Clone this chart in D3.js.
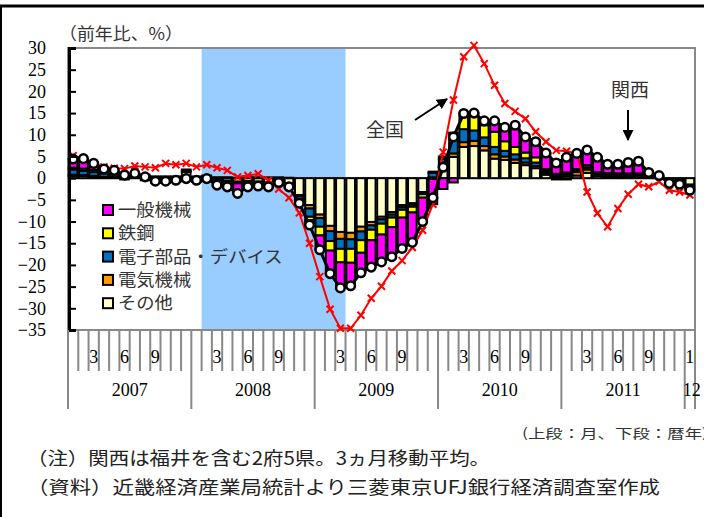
<!DOCTYPE html>
<html>
<head>
<meta charset="utf-8">
<script src="https://cdn.jsdelivr.net/npm/d3@7"></script>
<style>
  body { margin: 0; background: #fff; }
  svg { display: block; }
</style>
</head>
<body>
<div id="chart"></div>
<script>
// months on the x axis (Jan 2007 - Jan 2012)
var months = [
  "2007-01","2007-02","2007-03","2007-04","2007-05","2007-06","2007-07","2007-08","2007-09","2007-10","2007-11","2007-12",
  "2008-01","2008-02","2008-03","2008-04","2008-05","2008-06","2008-07","2008-08","2008-09","2008-10","2008-11","2008-12",
  "2009-01","2009-02","2009-03","2009-04","2009-05","2009-06","2009-07","2009-08","2009-09","2009-10","2009-11","2009-12",
  "2010-01","2010-02","2010-03","2010-04","2010-05","2010-06","2010-07","2010-08","2010-09","2010-10","2010-11","2010-12",
  "2011-01","2011-02","2011-03","2011-04","2011-05","2011-06","2011-07","2011-08","2011-09","2011-10","2011-11","2011-12",
  "2012-01"
];

// contributions (pt)
var sonota = [0.5,0.5,0.3,0.2,0.3,-0.3,0.1,-0.5,-1.0,-1.0,-0.8,1.4,
  -0.3,0.3,-0.4,-0.6,-0.8,-0.7,-0.8,-1.0,-0.5,-1.2,-3.9,-6.2,
  -8.4,-11.0,-12.4,-12.6,-11.2,-10.1,-8.9,-7.8,-6.2,-5.8,-3.2,0.2,
  2.5,4.9,7.2,7.4,6.4,4.5,4.2,3.5,3.0,2.3,0.8,-0.3,
  -0.3,0.6,1.2,0.5,0.3,0.3,0.3,0.3,0.2,0.1,-0.5,-0.5,-1.5];
var denki = [0.3,0.2,0.2,0.1,0.1,0.1,0.1,0.1,0.1,0.1,0.1,0.2,
  0.1,0.1,-0.1,-0.1,-0.2,-0.1,-0.1,-0.1,-0.1,-0.1,-0.3,-0.8,
  -0.8,-1.2,-1.6,-1.5,-1.1,-0.8,-0.6,-0.6,-0.5,-0.4,-0.2,-0.2,
  0.5,0.8,1.1,1.2,1.0,1.0,0.8,0.8,0.6,0.5,0.4,0.3,
  0.5,0.8,0.8,0.3,0.2,0.2,0.2,0.2,0.1,0.0,0.0,0.0,-0.4];
var denshi = [1.2,1.0,0.9,0.8,0.6,0.4,0.4,0.3,0.2,0.2,0.2,0.2,
  0.1,0.1,0.1,0.1,-0.2,0.1,0.1,-0.1,-0.1,-0.3,-0.7,-1.9,
  -2.0,-2.3,-2.3,-2.2,-2.0,-1.0,-1.0,-0.7,-0.6,-0.4,-0.3,1.0,
  1.5,3.8,3.0,2.4,2.0,1.7,1.3,1.2,1.0,0.8,0.5,0.4,
  0.5,0.4,0.5,0.4,0.5,0.4,0.4,0.4,0.3,0.2,-0.2,-0.3,-0.4];
var tekko = [0.4,0.5,0.5,0.3,0.3,0.2,0.2,0.2,0.1,0.1,0.1,0.2,
  0.2,0.1,0.1,0.1,0.1,0.1,0.1,0.2,0.2,0.1,-0.2,-0.8,
  -2.0,-2.2,-3.1,-3.2,-2.9,-2.4,-2.5,-2.2,-1.8,-1.3,-0.8,0.3,
  0.5,1.0,3.6,4.0,2.8,3.5,2.2,1.7,1.3,1.2,0.4,0.3,
  0.3,0.3,0.5,0.2,0.2,0.2,0.2,0.2,0.1,0.0,0.0,0.0,-0.2];
var ippan = [2.0,2.3,1.5,0.7,0.5,0.3,0.3,0.2,-0.1,-0.1,-0.1,-0.6,
  -0.6,-0.7,-1.3,-1.5,-2.4,-1.4,-1.1,-1.0,-0.5,-0.5,-0.7,-1.1,
  -3.3,-5.3,-5.9,-5.3,-4.6,-6.2,-6.3,-6.8,-7.1,-6.9,-5.5,-5.8,
  -2.5,-1.0,0.0,0.0,1.0,2.5,3.2,5.0,3.6,3.6,3.7,2.8,
  3.8,3.6,3.5,3.4,2.0,2.1,2.5,2.8,0.6,0.3,-0.5,-0.6,-0.3];

// 関西 total, 全国 (前年比 %)
var kansai = [4.4,4.5,3.4,2.1,1.8,0.7,1.1,0.3,-0.7,-0.7,-0.5,-0.1,
  -0.5,-0.1,-1.6,-2.0,-3.5,-2.0,-1.8,-2.0,-1.0,-2.0,-5.8,-10.8,
  -16.5,-22.0,-25.3,-24.8,-21.8,-20.5,-19.3,-18.1,-16.2,-14.8,-10.0,-4.5,
  2.5,9.5,14.9,15.0,13.2,13.2,11.7,12.2,9.5,8.4,5.8,3.5,
  4.8,5.7,6.5,4.8,3.2,3.2,3.6,3.9,1.3,0.6,-1.2,-1.4,-2.8];
var zenkoku = [5.2,4.5,3.5,2.6,2.3,2.2,2.8,2.6,2.4,3.4,3.1,3.4,
  2.6,3.1,2.4,1.8,0.3,0.6,1.0,-0.5,-2.5,-4.5,-8.0,-15.0,
  -22.7,-30.2,-34.6,-34.6,-31.6,-27.7,-24.9,-21.4,-19.0,-16.0,-12.0,-6.0,
  6.0,18.0,28.0,30.6,26.4,21.4,17.2,15.4,13.7,10.7,8.4,6.4,
  6.2,5.7,-3.2,-8.1,-11.2,-7.0,-3.7,-1.4,-2.0,-0.8,-2.8,-3.2,-3.9];

var seriesNames = ["一般機械", "鉄鋼", "電子部品・デバイス", "電気機械", "その他"];
var seriesColors = ["#FF00FF", "#FFFF00", "#0070C0", "#FF9900", "#FFFFCC"];
var yTicks = [30,25,20,15,10,5,0,-5,-10,-15,-20,-25,-30,-35];
var monthLabels = {"03":"3", "06":"6", "09":"9"};
var shadeFrom = "2008-02", shadeTo = "2009-03";

var W = 704, H = 517;
var margin = {left: 68, right: 695, top: 48, bottom: 330};

var svg = d3.select("#chart").append("svg")
  .attr("width", W).attr("height", H);

var x = d3.scaleBand().domain(months).range([margin.left, margin.right])
  .paddingInner(0.16).paddingOuter(0.08);
var y = d3.scaleLinear().domain([-35, 30]).range([margin.bottom, margin.top]);
var step = x.step();
var gap = (step - x.bandwidth()) / 2;

// table for stacking (nearest zero first)
var keys = ["sonota", "denki", "denshi", "tekko", "ippan"];
var table = months.map(function(m, i) {
  return {m: m, sonota: sonota[i], denki: denki[i], denshi: denshi[i], tekko: tekko[i], ippan: ippan[i]};
});
var keyColor = {ippan: "#FF00FF", tekko: "#FFFF00", denshi: "#0070C0", denki: "#FF9900", sonota: "#FFFFCC"};
var stacked = d3.stack().keys(keys).offset(d3.stackOffsetDiverging)(table);

// outer frame
svg.append("line").attr("x1", 0).attr("x2", W).attr("y1", 6).attr("y2", 6)
  .attr("stroke", "#000").attr("stroke-width", 3);
svg.append("line").attr("x1", 1).attr("x2", 1).attr("y1", 5).attr("y2", H)
  .attr("stroke", "#000").attr("stroke-width", 2);

// recession shading
svg.append("rect")
  .attr("x", x(shadeFrom) - gap)
  .attr("y", margin.top)
  .attr("width", x(shadeTo) - x(shadeFrom) + step)
  .attr("height", margin.bottom - margin.top)
  .attr("fill", "#99CCFF");

// plot border
svg.append("rect").attr("x", margin.left).attr("y", margin.top)
  .attr("width", margin.right - margin.left).attr("height", margin.bottom - margin.top)
  .attr("fill", "none").attr("stroke", "#888").attr("stroke-width", 2);

// zero line
svg.append("line").attr("x1", margin.left).attr("x2", margin.right)
  .attr("y1", y(0)).attr("y2", y(0))
  .attr("stroke", "#888").attr("stroke-width", 2);

// bars
svg.append("g").selectAll("g")
  .data(stacked).enter().append("g")
  .attr("fill", function(d) { return keyColor[d.key]; })
  .selectAll("rect")
  .data(function(d) { return d; })
  .enter().append("rect")
    .attr("x", function(d) { return x(d.data.m); })
    .attr("y", function(d) { return y(Math.max(d[0], d[1])); })
    .attr("width", x.bandwidth())
    .attr("height", function(d) { return Math.abs(y(d[0]) - y(d[1])); })
    .attr("stroke", "#000")
    .attr("stroke-width", 2);

function cx(i) { return x(months[i]) + x.bandwidth() / 2; }

// 全国 line
svg.append("path")
  .datum(zenkoku)
  .attr("fill", "none").attr("stroke", "#FF0000").attr("stroke-width", 2)
  .attr("d", d3.line().x(function(d, i) { return cx(i); }).y(function(d) { return y(d); }));
svg.append("g").selectAll("path")
  .data(zenkoku).enter().append("path")
  .attr("transform", function(d, i) { return "translate(" + cx(i) + "," + y(d) + ")"; })
  .attr("d", "M-3.5,-3.5L3.5,3.5M-3.5,3.5L3.5,-3.5")
  .attr("stroke", "#FF0000").attr("stroke-width", 2);

// 関西 line
svg.append("path")
  .datum(kansai)
  .attr("fill", "none").attr("stroke", "#000").attr("stroke-width", 3)
  .attr("d", d3.line().x(function(d, i) { return cx(i); }).y(function(d) { return y(d); }));
svg.append("g").selectAll("circle")
  .data(kansai).enter().append("circle")
  .attr("cx", function(d, i) { return cx(i); })
  .attr("cy", function(d) { return y(d); })
  .attr("r", 4.3)
  .attr("fill", "#fff").attr("stroke", "#000").attr("stroke-width", 2.5);

// y axis
var yAxis = svg.append("g")
  .attr("transform", "translate(" + (margin.left + 1) + ",0)")
  .call(d3.axisLeft(y).tickValues(yTicks).tickSize(-7).tickPadding(23));
yAxis.select(".domain").attr("stroke", "#000").attr("stroke-width", 3);
yAxis.selectAll(".tick line").attr("stroke", "#000").attr("stroke-width", 2);
yAxis.selectAll(".tick text")
  .style("font-family", "'Liberation Serif', serif").style("font-size", "18px").attr("fill", "#000");

// x axis: month boundary ticks, year separators
var bounds = months.map(function(m) { return x(m) - gap; });
bounds.push(margin.right);
svg.append("g").selectAll("line")
  .data(bounds).enter().append("line")
  .attr("x1", function(d) { return d; }).attr("x2", function(d) { return d; })
  .attr("y1", margin.bottom)
  .attr("y2", function(d, i) { return (i % 12 === 0 || i === months.length) ? 409 : 371; })
  .attr("stroke", "#888").attr("stroke-width", 2);

var axisFont = "'Liberation Serif', serif";
svg.append("g").selectAll("text")
  .data(months.filter(function(m) { return monthLabels[m.slice(5)] || m === "2012-01"; }))
  .enter().append("text")
  .attr("x", function(m) { return x(m) + x.bandwidth() / 2; })
  .attr("y", 363)
  .attr("text-anchor", "middle")
  .style("font-family", axisFont).style("font-size", "18px")
  .text(function(m) { return monthLabels[m.slice(5)] || "1"; });

var years = ["2007", "2008", "2009", "2010", "2011", "2012"];
var yearLabels = ["2007", "2008", "2009", "2010", "2011", "12"];
svg.append("g").selectAll("text")
  .data(years).enter().append("text")
  .attr("x", function(yr) {
    var ms = months.filter(function(m) { return m.slice(0, 4) === yr; });
    return (x(ms[0]) + x(ms[ms.length - 1]) + x.bandwidth()) / 2 + (yr === "2012" ? 2 : 0);
  })
  .attr("y", 396)
  .attr("text-anchor", "middle")
  .style("font-family", axisFont).style("font-size", "18px")
  .text(function(yr, i) { return yearLabels[i]; });

var jp = "'Noto Sans CJK JP', sans-serif";

// unit label
svg.append("text").attr("x", 59).attr("y", 40)
  .style("font-family", jp).style("font-size", "17px").attr("fill", "#333")
  .attr("textLength", 124).attr("lengthAdjust", "spacingAndGlyphs")
  .text("（前年比、%）");

// legend
var legend = svg.append("g").selectAll("g")
  .data(seriesNames).enter().append("g")
  .attr("transform", function(d, i) { return "translate(103," + (210 + i * 23.3) + ")"; });
legend.append("rect").attr("x", 0).attr("y", -5).attr("width", 10).attr("height", 10)
  .attr("fill", function(d, i) { return seriesColors[i]; })
  .attr("stroke", "#000").attr("stroke-width", 2);
legend.append("text").attr("x", 15).attr("y", 6)
  .style("font-family", jp).style("font-size", "17px").attr("fill", "#333")
  .attr("textLength", function(d) { return d.length * 18.3; })
  .attr("lengthAdjust", "spacingAndGlyphs")
  .text(function(d) { return d; });

// annotations
svg.append("defs").append("marker")
  .attr("id", "arr").attr("viewBox", "0 0 10 10").attr("refX", 9).attr("refY", 5)
  .attr("markerWidth", 5.5).attr("markerHeight", 5.5).attr("orient", "auto")
  .append("path").attr("d", "M0,0L10,5L0,10Z").attr("fill", "#000");

svg.append("text").attr("x", 366).attr("y", 137)
  .style("font-family", jp).style("font-size", "19px").attr("fill", "#333").text("全国");
svg.append("line").attr("x1", 415).attr("y1", 120).attr("x2", 447).attr("y2", 99)
  .attr("stroke", "#000").attr("stroke-width", 2).attr("marker-end", "url(#arr)");

svg.append("text").attr("x", 611).attr("y", 97)
  .style("font-family", jp).style("font-size", "19px").attr("fill", "#333").text("関西");
svg.append("line").attr("x1", 628).attr("y1", 110).attr("x2", 628).attr("y2", 140)
  .attr("stroke", "#000").attr("stroke-width", 2).attr("marker-end", "url(#arr)");

// notes
svg.append("text").attr("x", 522).attr("y", 438)
  .style("font-family", jp).style("font-size", "13px").attr("fill", "#333")
  .attr("textLength", 186).attr("lengthAdjust", "spacingAndGlyphs")
  .text("(上段：月、下段：暦年)");
svg.append("text").attr("x", 27).attr("y", 465)
  .style("font-family", jp).style("font-size", "18px").attr("fill", "#222")
  .attr("textLength", 463).attr("lengthAdjust", "spacingAndGlyphs")
  .text("（注）関西は福井を含む2府5県。3ヵ月移動平均。");
svg.append("text").attr("x", 27).attr("y", 494)
  .style("font-family", jp).style("font-size", "18px").attr("fill", "#222")
  .attr("textLength", 633).attr("lengthAdjust", "spacingAndGlyphs")
  .text("（資料）近畿経済産業局統計より三菱東京UFJ銀行経済調査室作成");
</script>
</body>
</html>
